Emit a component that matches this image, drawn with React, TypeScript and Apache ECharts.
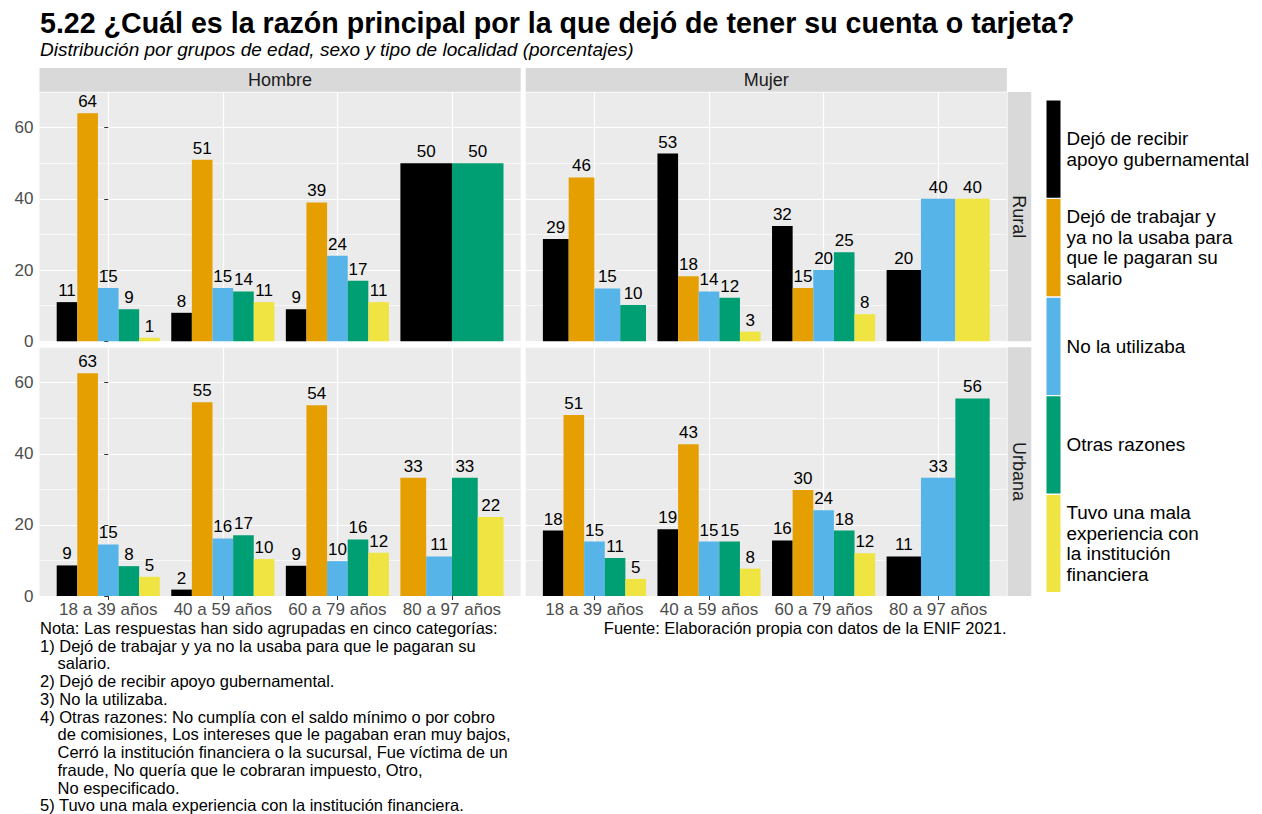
import React, { useEffect, useRef } from 'react';
import * as echarts from 'echarts';

const FONT = '"Liberation Sans", Arial, Helvetica, sans-serif';

// ---------- data ----------
const ages = ['18 a 39 años', '40 a 59 años', '60 a 79 años', '80 a 97 años'];
const categoryNames = [
  'Dejó de recibir apoyo gubernamental',
  'Dejó de trabajar y ya no la usaba para que le pagaran su salario',
  'No la utilizaba',
  'Otras razones',
  'Tuvo una mala experiencia con la institución financiera',
];
const legendLabels = [
  'Dejó de recibir\napoyo gubernamental',
  'Dejó de trabajar y\nya no la usaba para\nque le pagaran su\nsalario',
  'No la utilizaba',
  'Otras razones',
  'Tuvo una mala\nexperiencia con\nla institución\nfinanciera',
];
const colors = ['#000000', '#E69F00', '#56B4E9', '#009E73', '#F0E442'];
const sexLabels = ['Hombre', 'Mujer'];
const placeLabels = ['Rural', 'Urbana'];
const yTicks = [0, 20, 40, 60];

// Hombre - Rural
const hrApoyo = [11, 8, 9, 50];
const hrTrabajo = [64, 51, 39, null];
const hrNoUtil = [15, 15, 24, null];
const hrOtras = [9, 14, 17, 50];
const hrMala = [1, 11, 11, null];
// Mujer - Rural
const mrApoyo = [28.7, 52.7, 32.4, 20];
const mrTrabajo = [46, 18.3, 15, null];
const mrNoUtil = [14.8, 14, 20, 40];
const mrOtras = [10.2, 12.2, 25, null];
const mrMala = [null, 2.7, 7.6, 40];
// Hombre - Urbana
const huApoyo = [8.6, 1.8, 8.5, null];
const huTrabajo = [62.7, 54.5, 53.7, 33.3];
const huNoUtil = [14.5, 16.2, 9.8, 11.1];
const huOtras = [8.4, 17.1, 15.9, 33.3];
const huMala = [5.4, 10.4, 12.2, 22.2];
// Mujer - Urbana
const muApoyo = [18.4, 18.8, 15.6, 11.1];
const muTrabajo = [50.9, 42.7, 29.8, null];
const muNoUtil = [15.3, 15.3, 24.1, 33.3];
const muOtras = [10.7, 15.3, 18.4, 55.6];
const muMala = [4.8, 7.7, 12, null];

const notes: [number, string][] = [
  [0, 'Nota: Las respuestas han sido agrupadas en cinco categorías:'],
  [0, '1) Dejó de trabajar y ya no la usaba para que le pagaran su'],
  [1, 'salario.'],
  [0, '2) Dejó de recibir apoyo gubernamental.'],
  [0, '3) No la utilizaba.'],
  [0, '4) Otras razones: No cumplía con el saldo mínimo o por cobro'],
  [1, 'de comisiones, Los intereses que le pagaban eran muy bajos,'],
  [1, 'Cerró la institución financiera o la sucursal, Fue víctima de un'],
  [1, 'fraude, No quería que le cobraran impuesto, Otro,'],
  [1, 'No especificado.'],
  [0, '5) Tuvo una mala experiencia con la institución financiera.'],
];
const titleText = '5.22 ¿Cuál es la razón principal por la que dejó de tener su cuenta o tarjeta?';
const subtitleText = 'Distribución por grupos de edad, sexo y tipo de localidad (porcentajes)';
const sourceText = 'Fuente: Elaboración propia con datos de la ENIF 2021.';

const panels = [
  { col: 0, row: 0, values: [hrApoyo, hrTrabajo, hrNoUtil, hrOtras, hrMala] },
  { col: 1, row: 0, values: [mrApoyo, mrTrabajo, mrNoUtil, mrOtras, mrMala] },
  { col: 0, row: 1, values: [huApoyo, huTrabajo, huNoUtil, huOtras, huMala] },
  { col: 1, row: 1, values: [muApoyo, muTrabajo, muNoUtil, muOtras, muMala] },
];

// ---------- layout ----------
const colLeft = [39.5, 525.7];
const panelW = 481.2;
const rowTop = [92, 347.2];
const rowH = [249.3, 248.8];
const Y_MAX = 70;

const renderItem = (params: any, api: any) => {
  const a = api.value(0);
  const v = api.value(1);
  const slot = api.value(2);
  const n = api.value(3);
  const base = api.coord([a, 0]);
  const top = api.coord([a, v]);
  const unit = api.size([1, 0])[0];
  const groupW = unit * 0.9;
  const w = groupW / n;
  const x0 = base[0] - groupW / 2 + slot * w;
  return {
    type: 'group',
    children: [
      {
        type: 'rect',
        shape: { x: x0, y: top[1], width: w, height: base[1] - top[1] },
        style: { fill: api.visual('color') },
      },
      {
        type: 'text',
        x: x0 + w / 2,
        y: top[1] - 11.6,
        style: {
          text: String(Math.round(v)),
          fontSize: 17,
          fontFamily: FONT,
          fill: '#000',
          align: 'center',
          verticalAlign: 'middle',
          textAlign: 'center',
          textVerticalAlign: 'middle',
        },
      },
    ],
  };
};

export default function App() {
  const ref = useRef<HTMLDivElement>(null);
  useEffect(() => {
    if (!ref.current) return;
    const chart = echarts.init(ref.current, null, { renderer: 'svg' });

    const grids: any[] = [];
    const xAxes: any[] = [];
    const yAxes: any[] = [];
    const series: any[] = [];
    const ageIdx = ages.map((_, i) => i);

    panels.forEach((p, pi) => {
      grids.push({
        left: colLeft[p.col],
        top: rowTop[p.row],
        width: panelW,
        height: rowH[p.row],
        show: true,
        backgroundColor: '#EBEBEB',
        borderWidth: 0,
      });
      xAxes.push({
        type: 'value',
        gridIndex: pi,
        min: -0.6,
        max: ages.length - 0.4,
        axisLine: { show: false },
        axisTick: {
          show: p.row === 1,
          customValues: ageIdx,
          length: 4,
          lineStyle: { color: '#333333', width: 1 },
        },
        axisLabel: {
          show: p.row === 1,
          customValues: ageIdx,
          formatter: (val: number) => ages[Math.round(val)] ?? '',
          fontSize: 17,
          fontFamily: FONT,
          color: '#4D4D4D',
          margin: 5,
        },
        splitLine: { show: true, lineStyle: { color: '#FFFFFF', width: 1.2 } },
      });
      yAxes.push({
        type: 'value',
        gridIndex: pi,
        min: 0,
        max: Y_MAX,
        interval: 20,
        position: 'left',
        axisLine: { show: false },
        axisTick: {
          show: p.col === 0,
          customValues: yTicks,
          length: 4,
          lineStyle: { color: '#333333', width: 1 },
        },
        axisLabel: {
          show: p.col === 0,
          customValues: yTicks,
          fontSize: 17,
          fontFamily: FONT,
          color: '#4D4D4D',
          margin: 6,
        },
        splitLine: { show: true, lineStyle: { color: '#FFFFFF', width: 1.2 } },
      });
      yAxes.push({
        type: 'value',
        gridIndex: pi,
        min: 0,
        max: Y_MAX,
        interval: 10,
        position: 'right',
        axisLine: { show: false },
        axisTick: { show: false },
        axisLabel: { show: false },
        splitLine: { show: true, lineStyle: { color: '#FFFFFF', width: 0.6 } },
      });

      const counts = ageIdx.map((ai) => p.values.filter((arr) => arr[ai] != null).length);
      p.values.forEach((arr, ci) => {
        const data: any[] = [];
        arr.forEach((v, ai) => {
          if (v == null) return;
          const slot = p.values.slice(0, ci).filter((a) => a[ai] != null).length;
          data.push([ai, v, slot, counts[ai]]);
        });
        series.push({
          type: 'custom',
          name: categoryNames[ci],
          xAxisIndex: pi,
          yAxisIndex: pi * 2,
          itemStyle: { color: colors[ci] },
          encode: { x: 0, y: 1 },
          clip: false,
          z: 3,
          data,
          renderItem,
        });
      });
    });

    const graphic: any[] = [];
    graphic.push({
      type: 'text',
      x: 40,
      y: 23.2,
      style: {
        text: titleText, fontSize: 28.6, fontWeight: 'bold', fontFamily: FONT, fill: '#000',
        align: 'left', verticalAlign: 'middle', textAlign: 'left', textVerticalAlign: 'middle',
      },
    });
    graphic.push({
      type: 'text',
      x: 40,
      y: 49.3,
      style: {
        text: subtitleText, fontSize: 19, fontStyle: 'italic', fontFamily: FONT, fill: '#000',
        align: 'left', verticalAlign: 'middle', textAlign: 'left', textVerticalAlign: 'middle',
      },
    });
    // top strips
    sexLabels.forEach((s, i) => {
      graphic.push({
        type: 'rect',
        shape: { x: colLeft[i], y: 68, width: panelW, height: 23.7 },
        style: { fill: '#D9D9D9' },
        z: 1,
      });
      graphic.push({
        type: 'text',
        x: colLeft[i] + panelW / 2,
        y: 80.3,
        style: {
          text: s, fontSize: 18, fontFamily: FONT, fill: '#1A1A1A',
          align: 'center', verticalAlign: 'middle', textAlign: 'center', textVerticalAlign: 'middle',
        },
        z: 2,
      });
    });
    // right strips
    placeLabels.forEach((s, i) => {
      graphic.push({
        type: 'rect',
        shape: { x: 1007.6, y: rowTop[i], width: 23.7, height: rowH[i] },
        style: { fill: '#D9D9D9' },
        z: 1,
      });
      graphic.push({
        type: 'text',
        x: 1019.4,
        y: rowTop[i] + rowH[i] / 2,
        rotation: -Math.PI / 2,
        style: {
          text: s, fontSize: 18, fontFamily: FONT, fill: '#1A1A1A',
          align: 'center', verticalAlign: 'middle', textAlign: 'center', textVerticalAlign: 'middle',
        },
        z: 2,
      });
    });
    // notes
    notes.forEach(([indent, line], i) => {
      graphic.push({
        type: 'text',
        x: 40 + indent * 17.5,
        y: 627.8 + i * 17.75,
        style: {
          text: line, fontSize: 16.5, fontFamily: FONT, fill: '#000',
          align: 'left', verticalAlign: 'middle', textAlign: 'left', textVerticalAlign: 'middle',
        },
      });
    });
    graphic.push({
      type: 'text',
      x: 1006.5,
      y: 627.8,
      style: {
        text: sourceText, fontSize: 16.5, fontFamily: FONT, fill: '#000',
        align: 'right', verticalAlign: 'middle', textAlign: 'right', textVerticalAlign: 'middle',
      },
    });

    chart.setOption({
      animation: false,
      grid: grids,
      xAxis: xAxes,
      yAxis: yAxes,
      series,
      legend: {
        orient: 'vertical',
        left: 1046.5,
        top: 100.5,
        padding: 0,
        itemWidth: 14,
        itemHeight: 97.2,
        itemGap: 1.4,
        icon: 'rect',
        selectedMode: false,
        data: categoryNames,
        formatter: (name: string) => legendLabels[categoryNames.indexOf(name)],
        textStyle: { fontSize: 18.9, lineHeight: 20.5, color: '#000', fontFamily: FONT, padding: [0, 0, 0, 1] },
      },
      graphic,
    });
    return () => chart.dispose();
  }, []);
  return (
    <div
      ref={ref}
      style={{ position: 'fixed', left: 0, top: 0, width: 1262, height: 814, background: '#fff' }}
    />
  );
}
